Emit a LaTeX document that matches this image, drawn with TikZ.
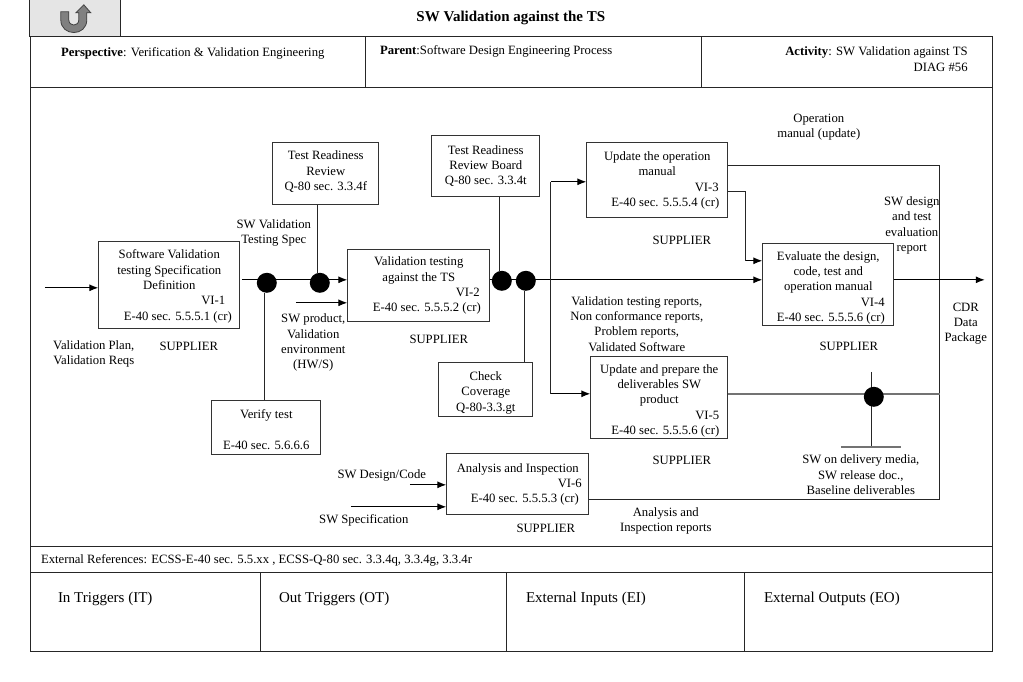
\documentclass[tikz,border=0pt]{standalone}
\usepackage{fontspec}
\setmainfont{Liberation Serif}
\usetikzlibrary{arrows.meta}
\usetikzlibrary{backgrounds}
\newcommand{\firstline}[1]{\rule{0pt}{#1}}
\tikzset{
  txt/.style={inner sep=0pt, align=center, font=\fontsize{12.7}{15.3}\selectfont},
  txtleft/.style={txt, anchor=west, align=left},
  cell/.style={inner sep=0pt, anchor=west, font=\fontsize{15}{18}\selectfont},
  box/.style={txt, draw=black!80, line width=0.9pt, fill=white},
  dot/.style={circle, inner sep=0pt, minimum size=20pt, fill=black},
  rule/.style={draw=black!85, line width=0.9pt},
  wire/.style={draw=black!85, line width=1pt},
  greywire/.style={draw=black!55, line width=1.5pt},
  flow/.style={draw=black, line width=1.1pt, -{Latex[length=9pt,width=7pt]}},
}
\begin{document}
\begin{tikzpicture}[x=1pt, y=-1pt]
  \useasboundingbox (0.2,0.2) rectangle (1023.2,682.2);

  % frame and table
  \node[rule, inner sep=0pt, minimum width=962pt, minimum height=615pt] (frame) at (512,344.5) {};
  \node[rule, fill=black!10, inner sep=0pt, minimum width=91pt, minimum height=37pt] (backbtn) at (75.5,18.5) {};
  \filldraw[draw=black!75, fill=black!50, line width=0.8pt] (61,12) -- (61,20) .. controls (61,37) and (87,37) .. (87,20) -- (87,13) -- (91,13) -- (84,5) -- (76,13) -- (79,13) -- (79,20) .. controls (79,27) and (69,27) .. (69,20) -- (69,12) -- cycle;
  \node[txt, font=\fontsize{15}{18}\selectfont\bfseries] (title) at (511,18) {SW Validation against the TS};

  \coordinate (headL) at (31,88);
  \coordinate (refL) at (31,547);
  \coordinate (cellL) at (31,573);
  \draw[rule] (headL) -- (headL -| frame.east);
  \draw[rule] (refL) -- (refL -| frame.east);
  \draw[rule] (cellL) -- (cellL -| frame.east);
  \foreach \cx/\cy/\ex in {366/37/88, 702/37/88, 261/573/652, 507/573/652, 745/573/652}
    \draw[rule] (\cx,\cy) -- (\cx,\ex);

  \node[txtleft] (persp) at (61,54) {\textbf{Perspective}: Verification \& Validation Engineering};
  \node[txtleft] (parent) at (380,51.5) {\textbf{Parent}:Software Design Engineering Process};
  \node[txt, anchor=east, align=right] (activity) at (968,59.5) {\textbf{Activity}: SW Validation against TS\\DIAG \#56};
  \node[txtleft] (extrefs) at (41,561) {External References: ECSS-E-40 sec. 5.5.xx , ECSS-Q-80 sec. 3.3.4q, 3.3.4g, 3.3.4r};
  \node[cell] (intrig) at (58,599) {In Triggers (IT)};
  \node[cell] (outtrig) at (279,599) {Out Triggers (OT)};
  \node[cell] (extin) at (526,599) {External Inputs (EI)};
  \node[cell] (extout) at (764,599) {External Outputs (EO)};

  % free ends and bends
  \coordinate (inA) at (45,288);
  \coordinate (mainA) at (242,280);
  \coordinate (prodA) at (296,303);
  \coordinate (midA) at (490,280);
  \coordinate (splitT) at (551,182);
  \coordinate (splitB) at (551,394);
  \coordinate (opTop) at (728,166);
  \coordinate (cornerT) at (940,166);
  \coordinate (cornerB) at (940,500);
  \coordinate (opLow) at (728,192);
  \coordinate (opBend) at (746,192);
  \coordinate (opIn) at (746,261);
  \coordinate (delOut) at (728,394);
  \coordinate (delEnd) at (940,394);
  \coordinate (outA) at (894,280);
  \coordinate (outB) at (985,280);
  \coordinate (stemT) at (872,372);
  \coordinate (stemB) at (872,447);
  \coordinate (baseL) at (841,447);
  \coordinate (baseR) at (901,447);
  \coordinate (anaOut) at (589,500);
  \coordinate (codeA) at (410,485);
  \coordinate (specA) at (351,507);

  % boxes
  \node[box, minimum width=141pt, minimum height=87pt] (swspec) at (169.5,285.5) {\firstline{11pt}Software Validation\\testing Specification\\Definition\\\hspace*{88pt}VI-1\\\hspace*{17pt}E-40 sec. 5.5.5.1 (cr)};
  \node[box, minimum width=106pt, minimum height=62pt] (trr) at (326,174) {Test Readiness\\Review\\\rule[-6pt]{0pt}{6pt}Q-80 sec. 3.3.4f};
  \node[box, minimum width=142pt, minimum height=72pt] (valtest) at (419,286) {Validation testing\\against the TS\\\hspace*{98pt}VI-2\\\hspace*{16pt}E-40 sec. 5.5.5.2 (cr)};
  \node[box, minimum width=108pt, minimum height=61pt] (trrb) at (486,166.5) {Test Readiness\\Review Board\\Q-80 sec. 3.3.4t};
  \node[box, minimum width=141pt, minimum height=75pt] (opman) at (657.5,180.5) {Update the operation\\manual\\\hspace*{99pt}VI-3\\\hspace*{16pt}E-40 sec. 5.5.5.4 (cr)};
  \node[box, minimum width=131pt, minimum height=82pt] (evalbox) at (828.5,285) {\firstline{15pt}Evaluate the design,\\code, test and\\operation manual\\\hspace*{89pt}VI-4\\\hspace*{5pt}E-40 sec. 5.5.5.6 (cr)};
  \node[box, minimum width=137pt, minimum height=82pt] (delbox) at (659.5,398) {\firstline{15pt}Update and prepare the\\deliverables SW\\product\\\hspace*{96pt}VI-5\\\hspace*{12pt}E-40 sec. 5.5.5.6 (cr)};
  \node[box, minimum width=109pt, minimum height=54pt] (verify) at (266.5,428) {\firstline{12pt}Verify test\\[15.3pt]E-40 sec. 5.6.6.6};
  \node[box, minimum width=94pt, minimum height=54pt] (check) at (486,390) {\firstline{15pt}Check\\Coverage\\Q-80-3.3.gt};
  \node[box, minimum width=142pt, minimum height=61pt] (anabox) at (518,484.5) {Analysis and Inspection\\\hspace*{104pt}VI-6\\\hspace*{14pt}E-40 sec. 5.5.5.3 (cr)};

  % dots
  \node[dot] (dotA) at (267,283) {};
  \node[dot] (dotB) at (320,283) {};
  \node[dot] (dotC) at (502,281) {};
  \node[dot] (dotD) at (526,281) {};
  \node[dot] (dotE) at (874,397) {};

  % connectors
  \begin{scope}[on background layer]
  \draw[flow] (inA) -- (inA -| swspec.west);
  \draw[flow] (mainA) -- (mainA -| valtest.west);
  \draw[flow] (prodA) -- (prodA -| valtest.west);
  \draw[flow] (midA) -- (midA -| evalbox.west);
  \draw[wire] (dotA.south -| 265,0) -- (verify.north -| 265,0);
  \draw[wire] (trr.south -| 318,0) -- (dotB.north -| 318,0);
  \draw[wire] (trrb.south -| 500,0) -- (dotC.north -| 500,0);
  \draw[wire] (check.north -| 525,0) -- (dotD.south -| 525,0);
  \draw[wire] (splitT) -- (splitB);
  \draw[flow] (splitT) -- (splitT -| opman.west);
  \draw[flow] (splitB) -- (splitB -| delbox.west);
  \draw[wire] (opTop) -- (cornerT) -- (cornerB) -- (anaOut);
  \draw[wire] (opLow) -- (opBend) -- (opIn);
  \draw[flow] (opIn) -- (opIn -| evalbox.west);
  \draw[greywire] (delOut) -- (delEnd);
  \draw[flow] (outA) -- (outB);
  \draw[wire] (stemT) -- (stemB);
  \draw[greywire] (baseL) -- (baseR);
  \draw[flow] (codeA) -- (codeA -| anabox.west);
  \draw[flow] (specA) -- (specA -| anabox.west);
  \end{scope}

  % labels
  \node[txt] (inlabel) at (94,354) {Validation Plan,\\Validation Reqs};
  \node[txt] (sup1) at (189,346.5) {SUPPLIER};
  \node[txt] (sup2) at (439,339.5) {SUPPLIER};
  \node[txt] (sup3) at (682,240.5) {SUPPLIER};
  \node[txt] (sup4) at (849,346.5) {SUPPLIER};
  \node[txt] (sup5) at (682,460.5) {SUPPLIER};
  \node[txt] (sup6) at (546,528.5) {SUPPLIER};
  \node[txt] (speclabel) at (274,233) {SW Validation\\Testing Spec};
  \node[txt] (prodlabel) at (313.5,343) {SW product,\\Validation\\environment\\(HW/S)};
  \node[txt] (oplabel) at (819,127) {Operation\\manual (update)};
  \node[txt] (evallabel) at (912,225.5) {SW design\\and test\\evaluation\\report};
  \node[txt] (cdrlabel) at (966,324) {CDR\\Data\\Package};
  \node[txt] (replabel) at (637,324) {Validation testing reports,\\Non conformance reports,\\Problem reports,\\Validated Software};
  \node[txt] (medialabel) at (861,475) {SW on delivery media,\\SW release doc.,\\Baseline deliverables};
  \node[txt] (analabel) at (666,521) {Analysis and\\Inspection reports};
  \node[txt] (codelabel) at (382,475.5) {SW Design/Code};
  \node[txt] (speclab2) at (364,520.5) {SW Specification};
\end{tikzpicture}
\end{document}
